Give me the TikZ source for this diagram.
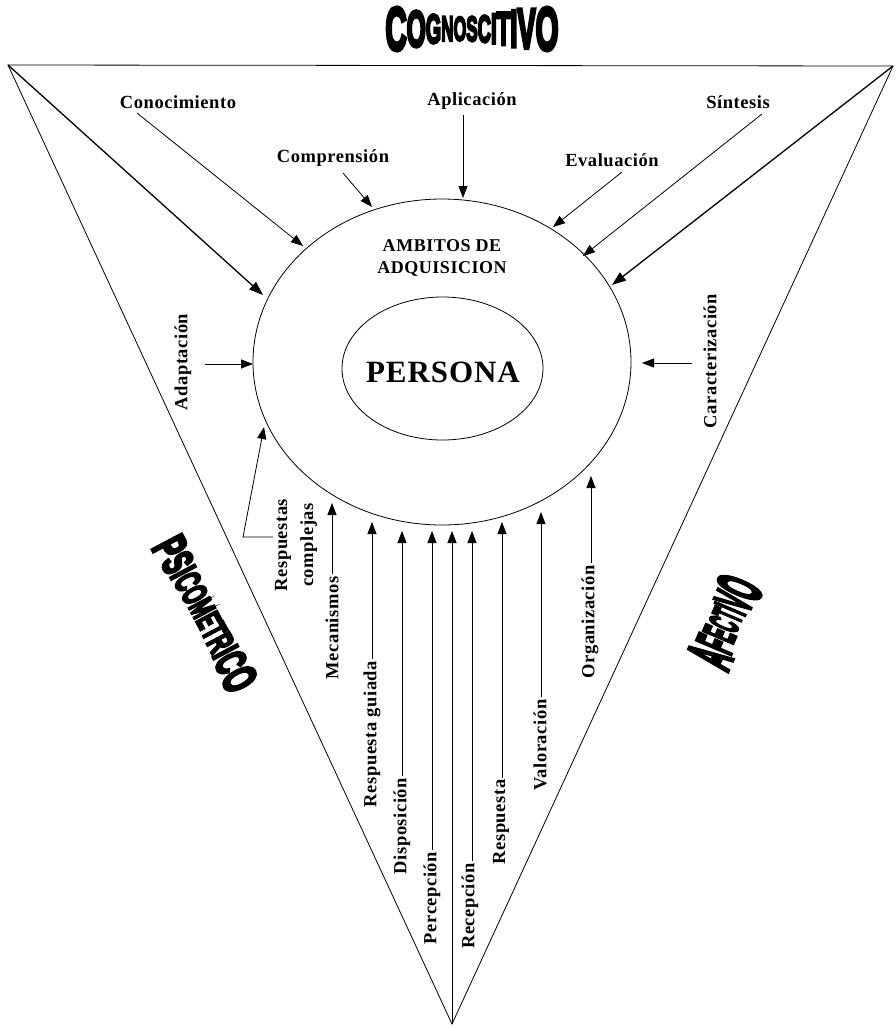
\documentclass[tikz,border=0pt]{standalone}
\usepackage{fontspec}
\usepackage{graphicx}
\setmainfont{Liberation Serif}[LetterSpace=3]
\newfontfamily\ttlfont{Liberation Sans Bold}[FakeBold=7]
\usetikzlibrary{arrows.meta,shapes.geometric,calc}
\newcommand{\Lt}[2]{\raisebox{-0.5\height}{\fontsize{#1}{#1}\selectfont #2}}
\begin{document}
\begin{tikzpicture}[x=1pt,y=-1pt,
  lab/.style={font=\bfseries\fontsize{18.5}{22}\selectfont, inner sep=2pt},
  vlab/.style={lab, rotate=90},
  edge/.style={line width=0.8pt},
  arr/.style={-{Triangle[length=12pt,width=9pt]}, line width=0.8pt},
  bigarr/.style={-{Triangle[length=14pt,width=10pt]}, line width=1.3pt}]
\fill[white] (0,0) rectangle (895,1028);
\useasboundingbox (0,0) rectangle (895,1028);

% triangle
\coordinate (tl) at (8,65);
\coordinate (tr) at (893,66);
\coordinate (bv) at (452,1024);
\draw[edge] (tl) -- (tr) -- (bv) -- cycle;

% ellipses
\node[draw, ellipse, line width=0.8pt, minimum width=378pt, minimum height=326pt] (amb) at (442,362) {};
\node[draw, ellipse, line width=0.8pt, minimum width=201pt, minimum height=143pt] (inner) at (442.5,368.5) {};
\node[font=\bfseries\fontsize{31}{31}\selectfont] (per) at (443,372) {PERSONA};
\node[lab, align=center, font=\bfseries\fontsize{18}{22}\selectfont] (ambt) at (442,258) {AMBITOS DE\\ADQUISICION};

% titles
\node (cog) at (472,29) {\resizebox*{173pt}{43pt}{\ttlfont\Lt{43}{C}\Lt{36}{O}\Lt{29}{G}\Lt{25}{N}\Lt{24}{O}\Lt{25}{S}\Lt{27}{C}\Lt{30}{I}\Lt{33}{T}\Lt{37}{I}\Lt{40}{V}\Lt{43}{O}}};
\node[rotate=-62] (psi) at (205,614) {\resizebox*{168pt}{34pt}{\ttlfont\Lt{34}{P}\Lt{31}{S}\Lt{28}{I}\Lt{26}{C}\Lt{25}{O}\Lt{24}{M}\Lt{24}{E}\Lt{25}{T}\Lt{26}{R}\Lt{28}{I}\Lt{31}{C}\Lt{34}{O}}};
\node[rotate=67] (afe) at (725,622) {\resizebox*{92pt}{45pt}{\ttlfont\Lt{44}{A}\Lt{37}{F}\Lt{32}{E}\Lt{29}{C}\Lt{29}{T}\Lt{32}{I}\Lt{37}{V}\Lt{44}{O}}};

% top labels
\node[lab] (con) at (178,102) {Conocimiento};
\node[lab] (com) at (333,158) {Comprensión};
\node[lab] (apl) at (472,101) {Aplicación};
\node[lab] (eva) at (612,160) {Evaluación};
\node[lab] (sin) at (738,102) {Síntesis};

\coordinate (con-s) at (137,113); \coordinate (con-e) at (303,246);
\coordinate (com-s) at (343,173); \coordinate (com-e) at (372,207);
\coordinate (apl-s) at (463,115); \coordinate (apl-e) at (463,198);
\coordinate (eva-s) at (622,172); \coordinate (eva-e) at (553,227);
\coordinate (sin-s) at (762,114); \coordinate (sin-e) at (583,256);
\coordinate (tl-e) at (263,295);
\coordinate (tr-e) at (612,285);
\draw[arr] (con-s) -- (con-e);
\draw[arr] (com-s) -- (com-e);
\draw[arr] (apl-s) -- (apl-e);
\draw[arr] (eva-s) -- (eva-e);
\draw[arr] (sin-s) -- (sin-e);
\draw[bigarr] (tl) -- (tl-e);
\draw[bigarr] (tr) -- (tr-e);

% side labels
\node[vlab] (ada) at (183,362) {Adaptación};
\node[vlab] (car) at (710,361) {Caracterización};
\coordinate (ada-s) at (205,364); \coordinate (ada-e) at (253,364);
\coordinate (car-s) at (692,363); \coordinate (car-e) at (642,363);
\draw[arr] (ada-s) -- (ada-e);
\draw[arr] (car-s) -- (car-e);

% respuestas complejas
\node[vlab, align=center, font=\bfseries\fontsize{18.5}{26}\selectfont] (rc) at (296,545) {Respuestas\\complejas};
\coordinate (rc-s) at (273,537);
\coordinate (rc-k) at (243,537);
\coordinate (rc-e) at (264,427);
\draw[arr] (rc-s) -- (rc-k) -- (rc-e);

% bottom labels
\node[vlab] (mec) at (332,628) {Mecanismos};
\node[vlab] (rg) at (372,734) {Respuesta guiada};
\node[vlab] (dis) at (402,826) {Disposición};
\node[vlab] (pcp) at (432,898) {Percepción};
\node[vlab] (rcp) at (470,906) {Recepción};
\node[vlab] (res) at (501,822) {Respuesta};
\node[vlab] (val) at (540,745) {Valoración};
\node[vlab] (org) at (590,622) {Organización};

\coordinate (mec-e) at (332,503);
\coordinate (rg-e) at (372,522);
\coordinate (dis-e) at (402,531);
\coordinate (pcp-e) at (432,531);
\coordinate (ctr-e) at (452,531);
\coordinate (rcp-e) at (472,531);
\coordinate (res-e) at (502,522);
\coordinate (val-e) at (541,512);
\coordinate (org-e) at (591,476);

\draw[arr] (mec.east) -- (mec-e);
\draw[arr] (rg.east) -- (rg-e);
\draw[arr] (dis.east) -- (dis-e);
\draw[arr] (pcp.east) -- (pcp-e);
\draw[arr] (bv) -- (ctr-e);
\draw[arr] (rcp.east -| rcp-e) -- (rcp-e);
\draw[arr] (res.east -| res-e) -- (res-e);
\draw[arr] (val.east -| val-e) -- (val-e);
\draw[arr] (org.east -| org-e) -- (org-e);
\end{tikzpicture}
\end{document}
